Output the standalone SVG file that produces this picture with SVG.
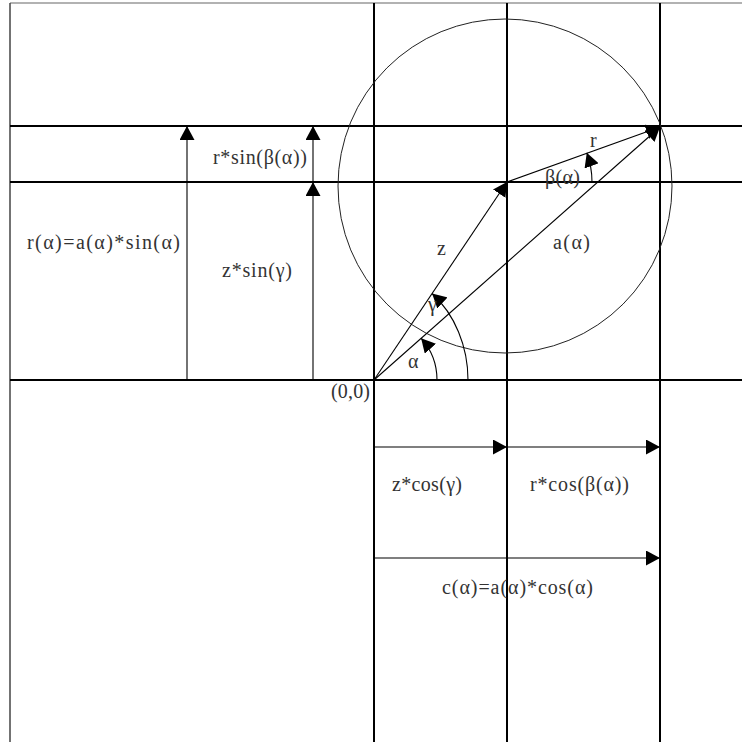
<svg xmlns="http://www.w3.org/2000/svg" width="742" height="742" viewBox="0 0 742 742">
<defs>
<marker id="ah" markerUnits="userSpaceOnUse" viewBox="0 0 14 15" refX="14" refY="7.5" markerWidth="14" markerHeight="15" orient="auto">
<path d="M0,0 L14,7.5 L0,15 z" fill="#000"/>
</marker>
<style>
.grid{stroke:#000;stroke-width:2;fill:none}
.vec{stroke:#000;stroke-width:1.1;fill:none;marker-end:url(#ah)}
.arc{stroke:#000;stroke-width:1.1;fill:none;marker-end:url(#ah)}
.lbl{font-family:"Liberation Serif","Times New Roman",serif;font-size:20px;fill:#333}
</style>
</defs>
<rect width="742" height="742" fill="#fff"/>
<g id="frame">
<line x1="10" y1="3" x2="742" y2="3" stroke="#999" stroke-width="1.5"/>
<line x1="10" y1="3" x2="10" y2="742" stroke="#444" stroke-width="1.5"/>
</g>
<g id="grid">
<line class="grid" x1="10" y1="126" x2="742" y2="126"/>
<line class="grid" x1="10" y1="182" x2="742" y2="182"/>
<line class="grid" x1="10" y1="380" x2="742" y2="380"/>
<line class="grid" x1="374" y1="3" x2="374" y2="742"/>
<line class="grid" x1="507" y1="3" x2="507" y2="742"/>
<line class="grid" x1="660" y1="3" x2="660" y2="742"/>
</g>
<g id="circle">
<circle cx="505" cy="186" r="167" fill="none" stroke="#222" stroke-width="1"/>
</g>
<g id="connectors">
<line class="vec" x1="374" y1="380" x2="507" y2="182"/>
<line class="vec" x1="374" y1="380" x2="660" y2="127"/>
<line class="vec" x1="507" y1="182" x2="660" y2="127"/>
<path class="arc" d="M437,380 A63,63 0 0,0 421.1,338.2"/>
<path class="arc" d="M468,380 A94,110 0 0,0 432.1,293.5"/>
<path class="arc" d="M592,182 A85,85 0 0,0 586.8,152.8"/>
<line class="vec" x1="187" y1="380" x2="187" y2="126"/>
<line class="vec" x1="313" y1="182" x2="313" y2="126"/>
<line class="vec" x1="313" y1="380" x2="313" y2="182"/>
<line class="vec" x1="374" y1="447" x2="507" y2="447"/>
<line class="vec" x1="507" y1="447" x2="660" y2="447"/>
<line class="vec" x1="374" y1="558" x2="660" y2="558"/>
</g>
<g id="labels">
<text class="lbl" x="213" y="164" textLength="94">r*sin(β(α))</text>
<text class="lbl" x="27" y="249" textLength="153">r(α)=a(α)*sin(α)</text>
<text class="lbl" x="222" y="277" textLength="70">z*sin(γ)</text>
<text class="lbl" x="392" y="491" textLength="70">z*cos(γ)</text>
<text class="lbl" x="530" y="491" textLength="99">r*cos(β(α))</text>
<text class="lbl" x="442" y="594" textLength="151">c(α)=a(α)*cos(α)</text>
<text class="lbl" x="590" y="147">r</text>
<text class="lbl" x="545" y="184" textLength="35">β(α)</text>
<text class="lbl" x="437" y="255">z</text>
<text class="lbl" x="553" y="249" textLength="37">a(α)</text>
<text class="lbl" x="428" y="311">γ</text>
<text class="lbl" x="408" y="368" textLength="14">α</text>
<text class="lbl" x="331" y="398" textLength="39">(0,0)</text>
</g>
</svg>
